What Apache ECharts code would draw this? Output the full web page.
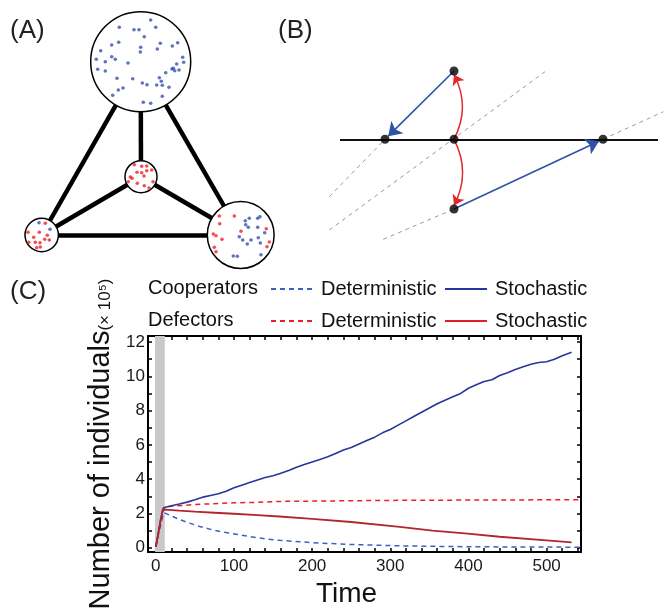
<!DOCTYPE html>
<html><head><meta charset="utf-8">
<script src="https://cdn.jsdelivr.net/npm/echarts@6/dist/echarts.min.js"></script>
<style>html,body{margin:0;padding:0;background:#fff}#c{width:665px;height:608px}</style>
</head><body><div id="c"></div>
<script>
// ---------- Panel A (diagram, px-like units) ----------
const circles = [[140.7,61.7,50],[141,176.7,16],[41.7,235,16.7],[240.7,235,33.4]]; // x,y,r
const edgePairs = [[0,2],[0,1],[0,3],[1,2],[1,3],[2,3]];
const blueDots = [[150.7,20],[155.7,27.3],[119.3,27.3],[134,29.7],[139,29.7],[144.3,36.7],[118.7,42.3],[160.3,43.3],[177.7,42.7],[172.3,46],[111.7,45],[140.7,47.3],[157.3,49],[100.7,50.7],[140.3,52],[111.7,56.7],[115.3,59.3],[96.3,59.3],[105.3,61.7],[128,63],[182.7,57.3],[183.7,62.3],[176.7,64],[173.3,68.3],[172,69],[174.7,70.7],[179,70],[97.7,69.3],[105.3,71],[165.7,72.7],[117,78.3],[132.7,78.7],[159.3,77.7],[161.3,81.3],[142.3,83],[147,84.7],[156.7,85],[162.3,85.3],[169,87.3],[123,88],[118.3,90],[112.7,95.3],[162.3,96.3],[143.3,102.3],[150.7,103.3],
  [39,222.7],[50,229.3],
  [249.3,218.3],[257.7,218.3],[260,216.7],[245.3,220.7],[245.7,224.7],[248.3,227.3],[257.7,227.3],[264.7,232.7],[239.3,236.7],[242.7,240],[251,240],[258.3,237.7],[247.3,244],[260.3,243],[261,254.7],[233.3,256],[237.3,256.3],[233.7,260.7]];
const redDots = [[134.3,164.7],[141.7,166.3],[146.7,166],[151.7,170],[146.7,170.7],[141.7,172.7],[137,172.3],[144,176],[130.3,177],[128.3,181.7],[137.3,183.3],[144.3,185.7],[149,188],[153,181.7],[132,178.3],
  [45.3,223.3],[28,232.3],[39.3,232.3],[47.3,235.3],[33.7,237.3],[35.3,242.3],[40,242.7],[44.7,239.3],[49.3,240],[28.7,242.3],[36.7,247.7],[40.3,247],
  [219.3,216],[234.3,216],[219.7,223.7],[213.3,234],[216,235.7],[222,239.3],[241,231.3],[266.3,228.7],[269.3,242],[267,246.7],[214.3,247.3],[216,251.7]];

// ---------- Panel B ----------
const baseLineB = [[340,139.3],[658,139.3]];
const dashedB = [[[329.3,196.7],[385,139.3]],[[329.3,230],[545,71.7]],[[383.3,239.3],[454,209]],[[603,139.3],[663.3,111.7]]];
const blueArrowsB = [[[454,71],[385,139.3]],[[454,209],[603,139.3]]];
const redArcsB = [[[454,139.3],[454,71],-0.26],[[454,139.3],[454,209],0.26]];
const pointsB = [[385,139.3],[454,139.3],[603,139.3],[454,71],[454,209]];
const dotRadiusB = 4.5;

// ---------- Panel C data ----------
const coopStoch = [[0,0.05],[3,0.8],[6,1.6],[9,2.25],[12,2.36],[20,2.45],[30,2.55],[40,2.66],[50,2.8],[60,2.95],[70,3.05],[80,3.15],[90,3.3],[100,3.5],[110,3.65],[120,3.8],[130,3.95],[140,4.1],[150,4.2],[160,4.35],[170,4.5],[180,4.7],[190,4.85],[200,5.0],[210,5.15],[220,5.3],[230,5.5],[240,5.7],[250,5.85],[260,6.05],[270,6.25],[280,6.45],[290,6.7],[300,6.9],[310,7.15],[320,7.4],[330,7.65],[340,7.9],[350,8.15],[360,8.4],[370,8.6],[380,8.8],[390,9.0],[400,9.3],[410,9.5],[420,9.7],[430,9.8],[440,10.05],[450,10.2],[460,10.4],[470,10.55],[480,10.7],[490,10.8],[500,10.85],[510,11.0],[520,11.2],[532,11.4]];
const coopDet = [[0,0.05],[5,1.1],[10,2.05],[20,1.85],[30,1.65],[40,1.48],[56,1.24],[70,1.07],[85,0.92],[101,0.8],[120,0.65],[140,0.52],[158,0.43],[184,0.35],[210,0.27],[250,0.19],[312,0.11],[370,0.07],[430,0.05],[490,0.04],[544,0.03]];
const defStoch = [[0,0.05],[3,0.8],[6,1.55],[9,2.2],[12,2.22],[30,2.16],[50,2.1],[75,2.04],[100,1.98],[130,1.9],[158,1.82],[200,1.68],[250,1.5],[312,1.22],[354,1.0],[399,0.82],[440,0.64],[500,0.43],[532,0.31]];
const defDet = [[0,0.05],[5,1.2],[10,2.35],[20,2.42],[50,2.52],[100,2.62],[127,2.64],[158,2.7],[200,2.72],[300,2.76],[400,2.78],[544,2.8]];
const xTicks = [0,20,40,60,80,100,120,140,160,180,200,220,240,260,280,300,320,340,360,380,400,420,440,460,480,500,520,540];
const xLabels = [0,100,200,300,400,500];
const yTicks = [0,1,2,3,4,5,6,7,8,9,10,11,12];
const yLabels = [0,2,4,6,8,10,12];
const grayBand = [-1,11.5];

// shorten an arrow so that its tip stops at the edge of the target dot
function trimEnd(seg, d){
  const [a,b] = seg; const dx=b[0]-a[0], dy=b[1]-a[1]; const L=Math.hypot(dx,dy);
  return [a,[b[0]-dx/L*d, b[1]-dy/L*d]];
}

const FONT = 'Liberation Sans, Arial, sans-serif';
const chart = echarts.init(document.getElementById('c'), null, {renderer:'canvas'});

const hiddenAx = {show:false, splitLine:{show:false}};
const frameLine = {show:true, onZero:false, lineStyle:{color:'#000', width:2}};
const tickStyle = (vals)=>({show:true, inside:true, length:4, customValues:vals, lineStyle:{color:'#000', width:1.5}});

const option = {
  animation:false,
  backgroundColor:'#fff',
  textStyle:{fontFamily:FONT},
  title:[
    {text:'(A)', left:10, top:18, padding:0, textStyle:{fontSize:26, fontWeight:'normal', color:'#222', fontFamily:FONT}},
    {text:'(B)', left:278, top:18, padding:0, textStyle:{fontSize:26, fontWeight:'normal', color:'#222', fontFamily:FONT}},
    {text:'(C)', left:10, top:279, padding:0, textStyle:{fontSize:26, fontWeight:'normal', color:'#222', fontFamily:FONT}},
    {text:'Cooperators', left:148, top:278, padding:0, textStyle:{fontSize:20, fontWeight:'normal', color:'#111', fontFamily:FONT}},
    {text:'Defectors', left:148, top:310, padding:0, textStyle:{fontSize:20, fontWeight:'normal', color:'#111', fontFamily:FONT}}
  ],
  legend:[
    {data:['Cooperators Deterministic'], left:270, top:279},
    {data:['Cooperators Stochastic'], left:444, top:279},
    {data:['Defectors Deterministic'], left:270, top:311},
    {data:['Defectors Stochastic'], left:444, top:311, lineStyle:{color:'#e41e26'}}
  ].map(l=>Object.assign({padding:0, itemWidth:42, itemHeight:14, itemGap:0, selectedMode:false,
      itemStyle:{opacity:0}, formatter:(n)=>n.split(' ')[1],
      textStyle:{fontSize:20, color:'#111', fontFamily:FONT, padding:[0,0,0,3]}}, l)),
  grid:[
    {left:0, top:0, width:665, height:260, outerBoundsMode:'none', containLabel:false},
    {left:148, top:336, width:433, height:216, outerBoundsMode:'none', containLabel:false}
  ],
  xAxis:[
    Object.assign({gridIndex:0, type:'value', min:0, max:665}, hiddenAx),
    {gridIndex:1, type:'value', min:-10, max:544, position:'bottom',
     axisLine:frameLine, axisTick:tickStyle(xTicks), splitLine:{show:false},
     axisLabel:{customValues:xLabels, fontSize:17, color:'#1a1a1a', margin:6, fontFamily:FONT},
     name:'Time', nameLocation:'middle', nameGap:28,
     nameTextStyle:{fontSize:28, color:'#111', fontFamily:FONT, padding:[0,36,0,0]}},
    {gridIndex:1, type:'value', min:-10, max:544, position:'top',
     axisLine:frameLine, axisTick:tickStyle(xTicks), axisLabel:{show:false}, splitLine:{show:false}}
  ],
  yAxis:[
    Object.assign({gridIndex:0, type:'value', min:0, max:260, inverse:true}, hiddenAx),
    {gridIndex:1, type:'value', min:-0.25, max:12.35, position:'left',
     axisLine:frameLine, axisTick:tickStyle(yTicks), splitLine:{show:false},
     axisLabel:{customValues:yLabels, fontSize:17, color:'#1a1a1a', margin:3, fontFamily:FONT},
     name:'{a|Number of individuals}{b|(× 10⁵)}', nameLocation:'middle', nameRotate:90, nameGap:18,
     nameTextStyle:{color:'#111', fontFamily:FONT, rich:{a:{fontSize:29, fontFamily:FONT, color:'#111', verticalAlign:'bottom'}, b:{fontSize:17, fontFamily:FONT, color:'#111', verticalAlign:'bottom', padding:[0,0,1,0]}}}},
    {gridIndex:1, type:'value', min:-0.25, max:12.35, position:'right',
     axisLine:frameLine, axisTick:tickStyle(yTicks), axisLabel:{show:false}, splitLine:{show:false}}
  ],
  series:[
    // Panel A
    {type:'lines', coordinateSystem:'cartesian2d', xAxisIndex:0, yAxisIndex:0, z:1, silent:true,
     data:edgePairs.map(p=>({coords:[circles[p[0]].slice(0,2), circles[p[1]].slice(0,2)]})),
     lineStyle:{color:'#000', width:4.5, opacity:1}},
    {type:'scatter', xAxisIndex:0, yAxisIndex:0, z:2, silent:true, data:circles,
     symbolSize:(v)=>v[2]*2, itemStyle:{color:'#fff', borderColor:'#000', borderWidth:1.5, opacity:1}},
    {type:'scatter', xAxisIndex:0, yAxisIndex:0, z:3, silent:true, data:blueDots, symbolSize:3.6, itemStyle:{color:'#3552ad'}},
    {type:'scatter', xAxisIndex:0, yAxisIndex:0, z:3, silent:true, data:redDots, symbolSize:3.6, itemStyle:{color:'#ec2329'}},
    // Panel B
    {type:'lines', coordinateSystem:'cartesian2d', xAxisIndex:0, yAxisIndex:0, z:1, silent:true,
     data:dashedB.map(c=>({coords:c})), lineStyle:{color:'#9a9a9a', width:1, type:[4,4], opacity:1}},
    {type:'lines', coordinateSystem:'cartesian2d', xAxisIndex:0, yAxisIndex:0, z:2, silent:true,
     data:[{coords:baseLineB}], lineStyle:{color:'#111', width:2, opacity:1}},
    {type:'lines', coordinateSystem:'cartesian2d', xAxisIndex:0, yAxisIndex:0, z:3, silent:true,
     data:blueArrowsB.map(c=>({coords:trimEnd(c, dotRadiusB)})), symbol:['none','arrow'], symbolSize:[0,13],
     lineStyle:{color:'#2f52a8', width:1.6, opacity:1}, itemStyle:{color:'#2f52a8'}},
    {type:'lines', coordinateSystem:'cartesian2d', xAxisIndex:0, yAxisIndex:0, z:3, silent:true,
     data:redArcsB.map(a=>({coords:trimEnd([a[0],a[1]], 3.5), lineStyle:{curveness:a[2]}})), symbol:['none','arrow'], symbolSize:[0,10],
     lineStyle:{color:'#e3262c', width:1.5, opacity:1}},
    {type:'scatter', xAxisIndex:0, yAxisIndex:0, z:4, silent:true, data:pointsB, symbolSize:dotRadiusB*2, itemStyle:{color:'#000'}},
    // Panel C
    {type:'line', name:'band', xAxisIndex:1, yAxisIndex:1, data:[], silent:true, z:1,
     markArea:{silent:true, itemStyle:{color:'#c9c9c9'}, data:[[{xAxis:grayBand[0]},{xAxis:grayBand[1]}]]}},
    {type:'line', name:'Cooperators Deterministic', xAxisIndex:1, yAxisIndex:1, data:coopDet, symbol:'none', z:3,
     color:'#3a62c4', lineStyle:{color:'#3a62c4', width:1.5, type:[5,4]}},
    {type:'line', name:'Defectors Deterministic', xAxisIndex:1, yAxisIndex:1, data:defDet, symbol:'none', z:3,
     color:'#ea2028', lineStyle:{color:'#ea2028', width:1.5, type:[5,4]}},
    {type:'line', name:'Cooperators Stochastic', xAxisIndex:1, yAxisIndex:1, data:coopStoch, symbol:'none', z:4,
     color:'#28359a', lineStyle:{color:'#28359a', width:1.6}},
    {type:'line', name:'Defectors Stochastic', xAxisIndex:1, yAxisIndex:1, data:defStoch, symbol:'none', z:4,
     color:'#b3262e', lineStyle:{color:'#b3262e', width:1.8}}
  ]
};
chart.setOption(option);
</script></body></html>
